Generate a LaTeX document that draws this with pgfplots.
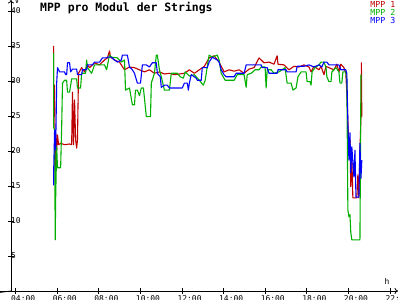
\documentclass[border=0pt]{standalone}
\usepackage{pgfplots}
\pgfplotsset{compat=1.18}
\usepackage{fontspec}
\setmonofont{DejaVu Sans Mono}
\usetikzlibrary{arrows.meta}
\definecolor{mppred}{RGB}{190,0,0}
\definecolor{mppgreen}{RGB}{0,175,0}
\definecolor{mppblue}{RGB}{0,0,255}
\begin{document}
\begin{tikzpicture}
\path[use as bounding box] (0,0) rectangle (400bp,300bp);
\begin{axis}[
  at={(11bp,9bp)}, anchor=south west,
  scale only axis, width=387bp, height=291bp,
  xmin=3.774, xmax=22.38, ymin=0, ymax=41.57,
  clip=false,
  axis lines=left,
  axis line style={black, line width=0.8bp, -{To[length=3.5bp,width=6bp]}},
  xtick={4,6,8,10,12,14,16,18,20,22},
  xticklabels={04:00,06:00,08:00,10:00,12:00,14:00,16:00,18:00,20:00,22:00},
  ytick={5,10,15,20,25,30,35,40},
  tick align=center, major tick length=6bp,
  tick style={black, line width=0.8bp},
  /pgf/number format/assume math mode=true,
  ticklabel style={font=\fontsize{8}{8}\selectfont\ttfamily, inner sep=0pt},
  xticklabel style={anchor=north west, xshift=-4.7bp, yshift=-1.6bp},
  yticklabel style={anchor=west, xshift=3bp},
  every axis plot/.append style={line width=1.1bp, line join=round},
]
\addplot[mppred] coordinates {
(5.82,35.0)(5.82,29.4)(5.87,29.4)(5.90,15.6)(5.92,22.6)(5.97,20.1)(6.01,22.3)(6.06,20.9)(6.16,21.1)(6.35,20.9)(6.59,21.0)(6.69,20.9)(6.73,28.4)(6.78,20.9)(6.83,27.3)(6.88,21.6)(6.93,20.4)(6.97,21.6)(7.02,31.1)(7.17,31.9)(7.31,31.3)(7.45,32.3)(7.55,31.9)(7.79,32.6)(8.03,32.3)(8.27,33.0)(8.41,33.3)(8.51,34.3)(8.56,33.4)(8.75,33.0)(8.99,32.7)(9.23,31.6)(9.47,32.0)(9.71,31.9)(9.95,31.6)(10.19,31.3)(10.43,31.6)(10.67,31.1)(10.91,31.3)(11.15,31.0)(11.39,31.1)(11.63,30.9)(11.87,31.0)(12.11,31.1)(12.35,31.6)(12.59,31.1)(12.83,31.6)(13.07,32.1)(13.30,33.3)(13.54,33.6)(13.78,32.7)(14.02,31.3)(14.26,31.6)(14.50,31.4)(14.74,31.6)(14.98,31.1)(15.22,31.7)(15.46,31.9)(15.70,33.3)(15.94,32.6)(16.18,32.7)(16.42,32.4)(16.57,33.6)(16.61,32.4)(16.90,32.3)(17.14,31.6)(17.38,32.1)(17.62,32.0)(17.86,32.3)(18.10,32.0)(18.20,31.3)(18.34,32.1)(18.58,31.6)(18.68,32.1)(18.82,30.9)(18.92,32.1)(19.06,31.9)(19.30,31.6)(19.44,32.4)(19.54,31.3)(19.63,32.4)(19.78,31.9)(19.87,31.1)(19.92,28.3)(19.97,24.4)(20.02,20.1)(20.07,21.6)(20.11,14.9)(20.16,19.1)(20.21,13.3)(20.40,13.3)(20.45,16.6)(20.50,13.3)(20.55,20.1)(20.60,24.9)(20.62,32.6)(20.64,24.9)
};
\addplot[mppgreen] coordinates {
(5.82,34.0)(5.82,23.4)(5.87,23.0)(5.90,7.3)(5.92,13.0)(5.97,20.6)(6.01,17.6)(6.16,17.6)(6.21,23.4)(6.25,29.7)(6.35,30.1)(6.45,30.1)(6.49,28.4)(6.59,28.4)(6.69,30.3)(6.93,30.3)(6.97,29.0)(7.12,29.0)(7.17,31.1)(7.36,31.1)(7.41,33.0)(7.45,31.9)(7.65,31.1)(7.79,32.3)(8.27,32.3)(8.37,31.6)(8.51,33.7)(8.60,33.4)(8.89,33.3)(9.08,32.7)(9.23,33.0)(9.28,28.7)(9.47,29.0)(9.61,26.6)(9.71,26.6)(9.76,28.7)(9.85,28.7)(9.95,27.9)(10.04,29.0)(10.14,29.0)(10.28,24.9)(10.48,24.9)(10.52,29.7)(10.67,31.1)(10.76,33.7)(10.81,33.7)(10.91,31.6)(11.00,30.6)(11.15,28.7)(11.39,28.7)(11.48,31.1)(11.77,31.1)(11.91,30.6)(12.06,30.4)(12.15,31.3)(12.35,30.7)(12.59,30.9)(12.83,30.1)(13.02,29.4)(13.11,30.1)(13.26,33.0)(13.30,33.7)(13.45,33.4)(13.69,33.7)(13.78,33.0)(13.88,31.1)(14.07,30.1)(14.50,30.1)(14.65,30.9)(14.98,30.9)(15.08,29.1)(15.13,30.9)(15.32,31.1)(15.51,31.6)(15.70,31.6)(15.80,32.0)(15.99,32.0)(16.04,29.0)(16.09,31.6)(16.28,31.6)(16.42,31.1)(16.66,31.3)(16.81,31.6)(16.95,31.9)(17.05,29.7)(17.24,29.7)(17.33,28.7)(17.48,29.0)(17.57,30.6)(17.72,31.3)(17.96,31.3)(18.01,29.9)(18.15,29.9)(18.20,29.4)(18.25,31.3)(18.39,31.9)(18.58,32.3)(18.68,32.7)(18.82,32.7)(18.92,31.9)(18.96,30.6)(19.06,29.9)(19.16,29.9)(19.20,31.3)(19.40,31.9)(19.54,31.3)(19.59,29.7)(19.68,29.7)(19.73,31.3)(19.87,31.3)(19.92,30.1)(19.97,11.6)(20.02,10.6)(20.07,10.9)(20.11,8.4)(20.16,7.3)(20.55,7.3)(20.60,30.9)
};
\addplot[mppblue] coordinates {
(5.82,15.1)(5.82,16.3)(5.87,23.0)(5.92,20.1)(5.97,29.7)(6.01,31.9)(6.11,31.3)(6.35,31.3)(6.40,30.9)(6.45,30.9)(6.49,32.6)(6.59,32.6)(6.64,31.3)(6.73,31.7)(6.93,31.7)(6.97,30.9)(7.17,30.9)(7.21,31.6)(7.41,31.6)(7.45,32.3)(7.69,32.3)(7.79,32.7)(8.03,32.7)(8.17,33.3)(8.37,33.3)(8.41,33.4)(8.60,33.4)(8.75,33.0)(8.89,32.7)(9.08,33.0)(9.13,33.7)(9.37,33.7)(9.47,32.0)(9.61,31.6)(9.71,31.1)(9.85,29.7)(10.00,29.7)(10.09,32.3)(10.28,32.3)(10.43,32.0)(10.57,32.6)(10.76,32.6)(10.81,31.1)(10.95,30.6)(11.00,29.1)(11.15,29.4)(11.29,29.4)(11.39,29.0)(12.01,29.0)(12.11,29.7)(12.25,29.7)(12.30,28.7)(12.35,29.7)(12.44,30.9)(12.68,30.4)(12.73,30.1)(12.92,30.1)(12.97,31.9)(13.21,31.9)(13.30,32.7)(13.45,33.4)(13.69,33.0)(13.78,32.7)(13.88,31.6)(14.02,30.9)(14.12,30.6)(14.50,30.6)(14.60,31.1)(14.98,31.1)(15.08,32.3)(15.80,32.3)(15.85,31.9)(16.09,31.9)(16.18,31.1)(16.57,31.1)(16.61,31.6)(17.00,31.6)(17.05,31.3)(17.48,31.3)(17.53,32.1)(17.86,32.1)(18.10,32.3)(18.34,32.0)(18.58,32.3)(18.72,32.0)(18.82,32.7)(18.96,32.7)(19.06,32.3)(19.54,32.3)(19.63,31.6)(19.87,31.6)(19.92,31.1)(19.97,24.0)(20.02,18.7)(20.07,22.6)(20.11,16.9)(20.16,20.6)(20.26,16.3)(20.31,20.1)(20.36,13.4)(20.50,13.4)(20.55,21.1)(20.60,16.1)(20.64,18.7)
};
\draw[black, line width=0.8bp] (rel axis cs:0,0) -- ++(0,-10bp);
\draw[black, line width=0.8bp] (rel axis cs:0,0) -- ++(-12bp,0);
\end{axis}
\node[anchor=base west, inner sep=0pt, font=\fontsize{11.5}{11.5}\selectfont\ttfamily\bfseries] at (40bp,288.5bp) {MPP pro Modul der Strings};
\node[anchor=base east, inner sep=0pt, text=mppred, font=\fontsize{8.3}{8.3}\selectfont\ttfamily] at (395.5bp,292.7bp) {MPP 1};
\node[anchor=base east, inner sep=0pt, text=mppgreen, font=\fontsize{8.3}{8.3}\selectfont\ttfamily] at (395.5bp,284.6bp) {MPP 2};
\node[anchor=base east, inner sep=0pt, text=mppblue, font=\fontsize{8.3}{8.3}\selectfont\ttfamily] at (395.5bp,276.7bp) {MPP 3};
\node[anchor=base, inner sep=0pt, font=\fontsize{8}{8}\selectfont\ttfamily] at (387bp,16bp) {h};
\node[anchor=base, inner sep=0pt, font=\fontsize{8}{8}\selectfont\ttfamily] at (17bp,296.5bp) {V};
\end{tikzpicture}
\end{document}
